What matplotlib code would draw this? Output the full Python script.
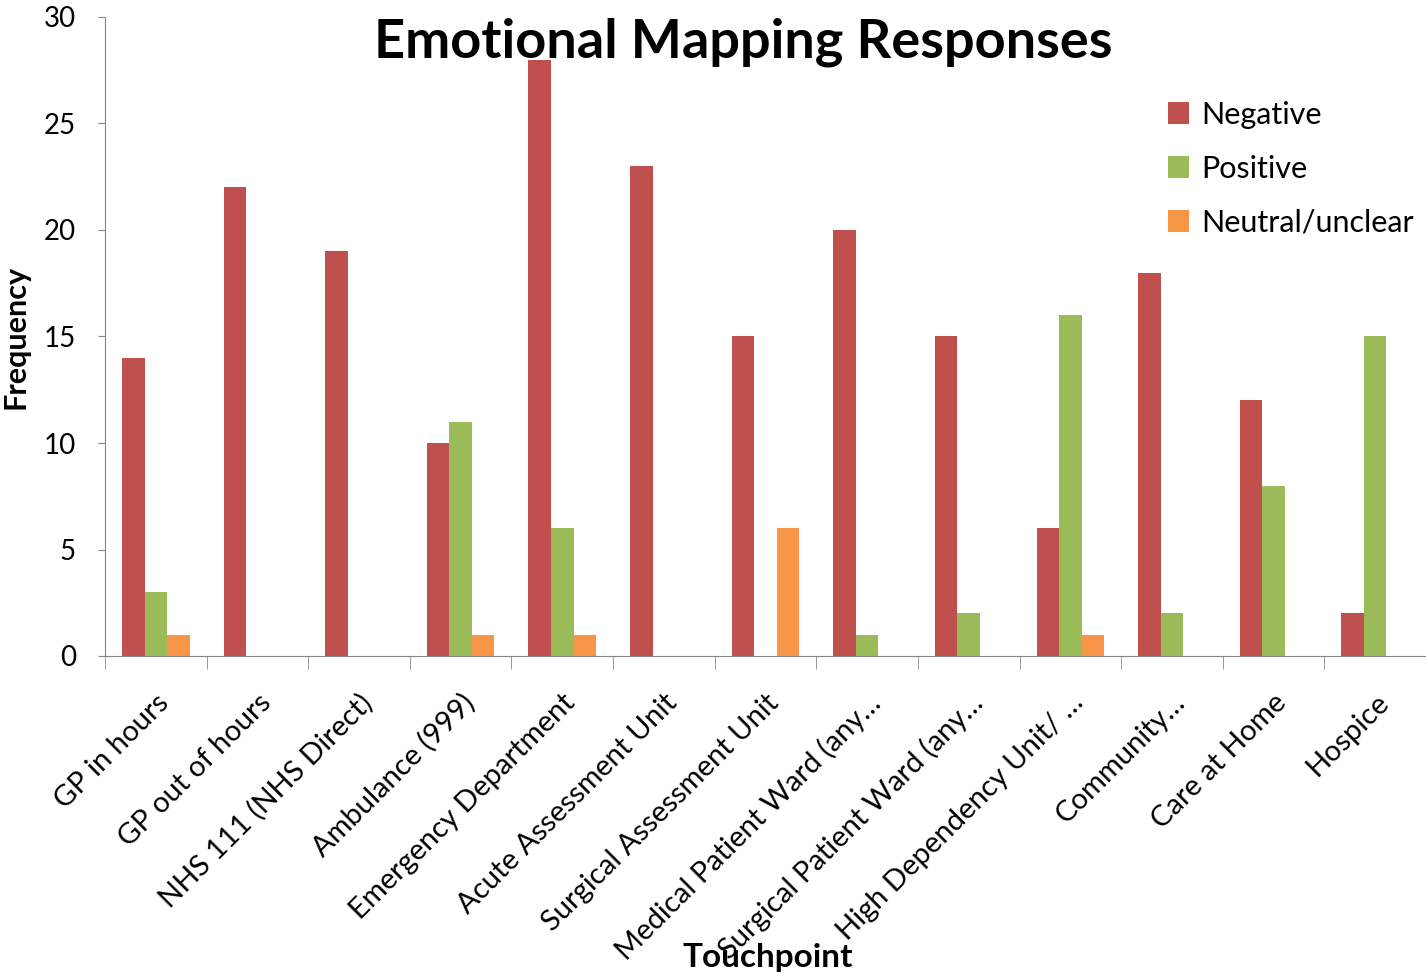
import numpy as np
import matplotlib
matplotlib.use("Agg")
import matplotlib.pyplot as plt
from matplotlib.ticker import FixedLocator

# chart data
touchpoints = ["GP in hours", "GP out of hours", "NHS 111 (NHS Direct)",
               "Ambulance (999)", "Emergency Department", "Acute Assessment Unit",
               "Surgical Assessment Unit", "Medical Patient Ward (any\u2026",
               "Surgical Patient Ward (any\u2026", "High Dependency Unit/ \u2026",
               "Community\u2026", "Care at Home", "Hospice"]
negative = [14, 22, 19, 10, 28, 23, 15, 20, 15, 6, 18, 12, 2]
positive = [3, 0, 0, 11, 6, 0, 0, 1, 2, 16, 2, 8, 15]
neutral = [1, 0, 0, 1, 1, 0, 6, 0, 0, 1, 0, 0, 0]

plt.rcParams['font.family'] = ['Lato', 'DejaVu Sans']

fig = plt.figure(figsize=(14.26, 9.77), dpi=100)
ax = fig.add_axes([105 / 1426, 1 - 656 / 977, 1 - 105 / 1426, (656 - 17) / 977])

x = np.arange(len(touchpoints))
w = 0.222
ax.bar(x - w, negative, w, color="#C0504D", label="Negative")
ax.bar(x, positive, w, color="#9BBB59", label="Positive")
ax.bar(x + w, neutral, w, color="#F79646", label="Neutral/unclear")

ax.set_xlim(-0.5, len(touchpoints) - 0.5)
ax.set_ylim(0, 30)
ax.set_yticks([0, 5, 10, 15, 20, 25, 30])
ax.tick_params(axis="y", labelsize=20, length=5, color="#868686", pad=16)

ax.set_xticks(x)
ax.set_xticklabels(touchpoints, rotation=45, ha="right", rotation_mode="anchor", fontsize=21)
ax.tick_params(axis="x", which="major", length=0, pad=24)
ax.xaxis.set_minor_locator(FixedLocator(np.arange(-0.5, len(touchpoints), 1.0)))
ax.tick_params(axis="x", which="minor", length=9, color="#868686")

for s in ["top", "right"]:
    ax.spines[s].set_visible(False)
for s in ["left", "bottom"]:
    ax.spines[s].set_color("#868686")

ax.set_ylabel("Frequency", fontsize=22, fontweight="bold")
ax.yaxis.set_label_coords(-0.057, 0.5)
fig.text(768 / 1426, 1 - 958 / 977, "Touchpoint", fontsize=24, fontweight="bold",
         ha="center", va="center")
fig.text(743 / 1426, 1 - 42 / 977, "Emotional Mapping Responses", fontsize=39,
         fontweight="bold", ha="center", va="center")

ax.legend(loc="upper right", bbox_to_anchor=(1.0, 0.888), frameon=False, fontsize=22,
          handlelength=0.7, handleheight=0.7, handletextpad=0.4, labelspacing=0.85,
          borderaxespad=0)

fig.savefig("out.png", dpi=100)
